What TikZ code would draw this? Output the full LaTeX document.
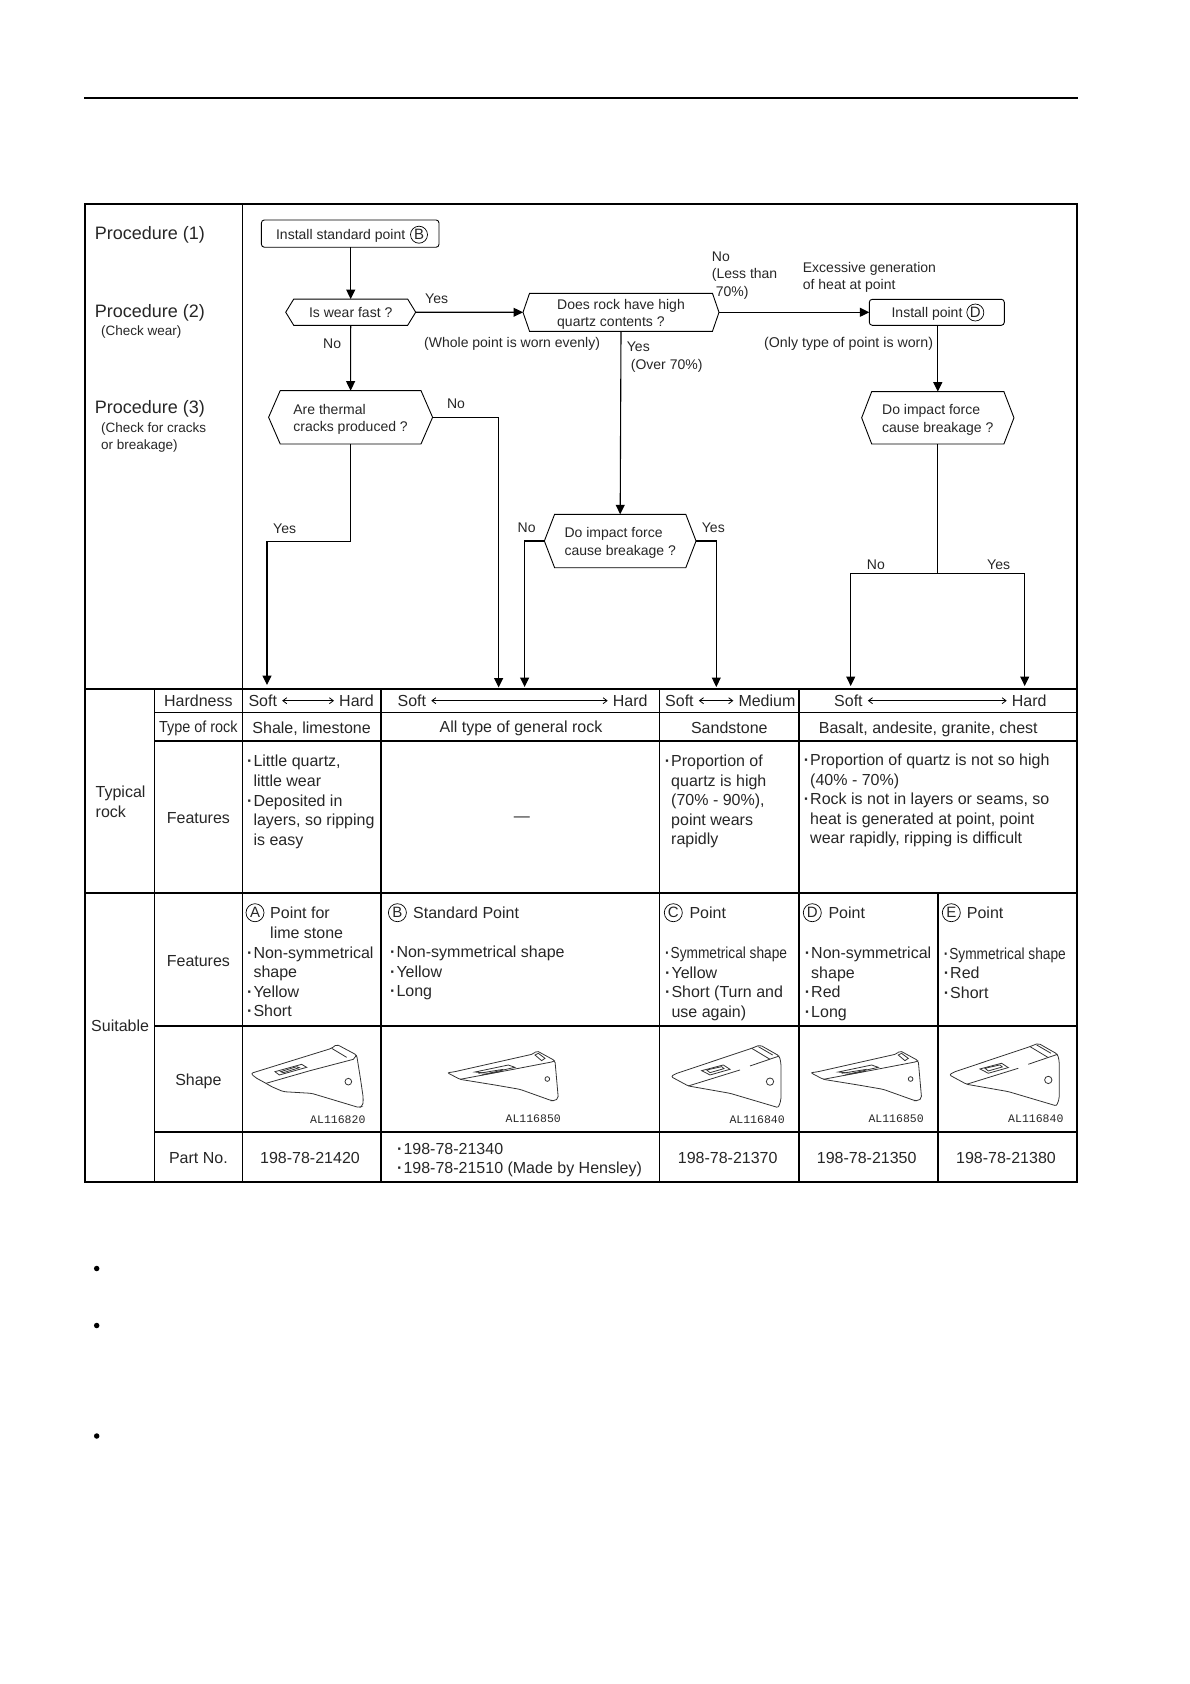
\documentclass[tikz,border=0pt]{standalone}
\usepackage{fontspec}
\setmainfont{Liberation Sans}
\newfontfamily\codefont{Liberation Mono}
\usepackage{tikz}
\usetikzlibrary{arrows.meta,shapes.symbols}
% point drawings, one path set per type, in zoomed pixels
\newcommand{\pointA}[2]{\begin{scope}[shift={(#1,#2)},scale=0.3333,sketch]
  \draw[rounded corners=2pt] (33,130) -- (275,55) -- (290,43) -- (350,75) -- (362,150) -- (370,205) -- (368,228) -- (358,233) -- (215,190) -- (130,185) -- (95,170) -- (78,160) -- (45,142) -- cycle;
  \draw (78,160) -- (210,122) -- (340,88) -- (350,75);
  \draw (105,125) -- (185,103) -- (200,112) -- (118,135) -- cycle;
  \draw (122,125) -- (170,110) -- (178,113) -- (130,128) -- cycle;
  \draw (275,55) -- (320,82);
  \draw (325,155) circle[radius=10];
\end{scope}}
\newcommand{\pointB}[2]{\begin{scope}[shift={(#1,#2)},scale=0.3333,sketch]
  \draw[rounded corners=2pt] (622,128) -- (640,126) -- (880,72) -- (890,62) -- (945,92) -- (955,205) -- (945,212) -- (935,212) -- (840,178) -- (765,165) -- (660,148) -- cycle;
  \draw (660,148) -- (820,118) -- (935,96) -- (945,92);
  \draw (705,126) -- (805,105) -- (825,112) -- (745,130) -- cycle;
  \draw (715,130) -- (790,118);
  \draw (725,135) -- (785,124);
  \draw (885,75) -- (895,70) -- (915,85) -- (905,92) -- cycle;
  \draw (922,147) circle[radius=7];
\end{scope}}
\newcommand{\pointC}[2]{\begin{scope}[shift={(#1,#2)},scale=0.3333,sketch]
  \draw[rounded corners=2pt] (63,1190) -- (75,1182) -- (305,1105) -- (330,1095) -- (388,1128) -- (393,1150) -- (393,1260) -- (385,1283) -- (375,1280) -- (240,1240) -- (115,1218) -- cycle;
  \draw (115,1218) -- (270,1170);
  \draw (300,1158) -- (388,1128);
  \draw (155,1172) -- (220,1155) -- (240,1168) -- (180,1185) -- cycle;
  \draw (170,1170) -- (215,1160) -- (222,1166) -- (180,1178) -- cycle;
  \draw (305,1105) -- (360,1138);
  \draw (325,1100) -- (368,1125);
  \draw (360,1205) circle[radius=11];
\end{scope}}
\newcommand{\bulN}{\textbf{·}\hspace{1pt}}
\newcommand{\hangN}{\phantom{\bulN}}
\newcommand{\downN}{\rule{0pt}{14pt}}
\newcommand{\narrowN}[2]{\scalebox{#1}[1]{#2}}
\begin{document}
\begin{tikzpicture}[x=1pt,y=-1pt,
  every node/.style={text=black!85},
  sketch/.style={line width=0.8pt, black!80},
  rule/.style={line width=1.6pt},
  ruleB/.style={line width=2.2pt},
  flow/.style={line width=1.1pt, -{Triangle[length=9.5pt,width=9pt]}},
  wire/.style={line width=1.1pt},
  scaleline/.style={line width=0.8pt, {Straight Barb[length=4pt,width=6pt]}-{Straight Barb[length=4pt,width=6pt]}, shorten <=5pt, shorten >=5pt},
  pointN/.style={draw, line width=0.9pt, rounded corners=3pt, inner sep=0pt, outer sep=0pt, font=\fontsize{14}{17.5}\selectfont},
  decideN/.style={draw, line width=0.9pt, signal, signal to=east and west, inner sep=0pt, outer sep=0pt, align=left, font=\fontsize{14}{17.5}\selectfont},
  letterN/.style={draw, circle, line width=0.7pt, inner sep=0pt, minimum size=18pt, font=\fontsize{15}{15}\selectfont},
  procN/.style={inner sep=0pt, anchor=west, font=\fontsize{18}{20}\selectfont},
  noteN/.style={inner sep=0pt, anchor=west, align=left, font=\fontsize{13.5}{17}\selectfont},
  flowT/.style={inner sep=0pt, anchor=west, align=left, font=\fontsize{14}{17.5}\selectfont},
  cellC/.style={inner sep=0pt, align=center, font=\fontsize{16}{19.6}\selectfont},
  cellL/.style={inner sep=0pt, anchor=west, align=left, font=\fontsize{16}{19.6}\selectfont},
  partN/.style={inner sep=0pt, font=\fontsize{16}{19.6}\selectfont},
  codeN/.style={inner sep=0pt, anchor=west, font=\fontsize{11.5}{12}\codefont},
  dotN/.style={circle, fill=black, inner sep=0pt, minimum size=5.5pt}
]
\useasboundingbox (0,0) rectangle (1190,1684);
% Page rule and frame
\coordinate (ruleL) at (84,98);
\coordinate (ruleR) at (1078,98);
\draw[line width=2.6pt] (ruleL) -- (ruleR);
\draw[rule] (85,204) rectangle (1077,1182);
% Table rules
\foreach \xv in {154.5,242.5,381,659.3,799} {
  \draw[rule] (\xv,689) -- (\xv,1182);
}
\draw[rule] (242.5,204) -- (242.5,689);
\draw[rule] (938,893) -- (938,1182);
\draw[ruleB] (85,689) -- (1077,689);
\draw[ruleB] (85,893) -- (1077,893);
\draw[rule] (154.5,712.5) -- (1077,712.5);
\draw[rule] (154.5,741) -- (1077,741);
\draw[rule] (154.5,1026) -- (1077,1026);
\draw[ruleB] (154.5,1132) -- (1077,1132);
% Procedures
\node[procN] (proc1) at (94.7,234.7) {Procedure (1)};
\node[procN] (proc2) at (94.7,312.7) {Procedure (2)};
\node[noteN] (check2) at (101,332) {(Check wear)};
\node[procN] (proc3) at (94.7,408.7) {Procedure (3)};
\node[noteN] (check3) at (101,437.8) {(Check for cracks\\or breakage)};
% Flow boxes
\node[pointN, minimum width=177.6pt, minimum height=27.3pt] (install) at (350.2,233.6) {\downN Install standard point\hspace{19pt}\mbox{}};
\node[letterN, minimum size=17pt] (circB) at (419,234.7) {B};
\node[decideN, minimum width=130pt, minimum height=26.3pt, signal pointer angle=117] (wear) at (350.7,312.2) {Is wear fast ?};
\node[decideN, minimum width=196pt, minimum height=38pt, signal pointer angle=142] (rock) at (621,312.3) {\downN Does rock have high\\quartz contents ?};
\node[pointN, minimum width=135pt, minimum height=26pt] (installD) at (936.8,312.3) {\downN Install point\hspace{19.6pt}\mbox{}};
\node[letterN, minimum size=17pt] (circD) at (975.3,312.5) {D};
\node[decideN, minimum width=164pt, minimum height=53.3pt, signal pointer angle=133] (thermal) at (350.6,417.3) {\downN Are thermal\\cracks produced ?};
\node[decideN, minimum width=151.7pt, minimum height=53.4pt, signal pointer angle=138] (impactA) at (620.2,541) {\downN Do impact force\\cause breakage ?};
\node[decideN, minimum width=152.3pt, minimum height=52.3pt, signal pointer angle=138] (impactB) at (937.8,417.8) {\downN Do impact force\\cause breakage ?};
% Free ends on the table
\coordinate (elbowA) at (267,541.7);
\coordinate (tipA) at (267,685);
\coordinate (tipB) at (498.6,687.5);
\coordinate (tipC) at (524.6,687);
\coordinate (tipD) at (716.3,687);
\coordinate (joinE) at (937.8,573.7);
\coordinate (tipE) at (850.7,686);
\coordinate (tipF) at (1024.7,686);
% Flow connectors
\draw[flow] (install.south -| wear.north) -- (wear.north);
\draw[flow] (wear.east) -- (rock.west);
\draw[flow] (wear.south) -- (thermal.north);
\draw[flow] (rock.east) -- (installD.west);
\draw[flow] (rock.south) -- (impactA.north);
\draw[flow] (installD.south -| impactB.north) -- (impactB.north);
\draw[flow] (thermal.south) |- (elbowA) -- (tipA);
\draw[flow] (thermal.east) -| (tipB);
\draw[flow] (impactA.west) -| (tipC);
\draw[flow] (impactA.east) -| (tipD);
\draw[wire] (impactB.south) -- (joinE);
\draw[flow] (joinE) -| (tipE);
\draw[flow] (joinE) -| (tipF);
% Flow labels
\node[flowT] (yes1) at (425,299) {Yes};
\node[flowT] (no1) at (323,344) {No};
\node[flowT] (whole) at (424,344) {(Whole point is worn evenly)};
\node[flowT] (no2) at (446.8,404) {No};
\node[flowT] (yes2) at (273,529) {Yes};
\node[flowT] (yes3) at (626.7,357.3) {Yes\\\hspace*{4pt}(Over 70\%)};
\node[flowT] (no3) at (711.7,275.3) {No\\(Less than\\\hspace*{4pt}70\%)};
\node[flowT] (heat) at (802.7,277.3) {Excessive generation\\of heat at point};
\node[flowT, font=\fontsize{14.2}{17.5}\selectfont] (only) at (764,344) {(Only type of point is worn)};
\node[flowT] (no4) at (517.5,527.3) {No};
\node[flowT] (yes4) at (701.7,527.3) {Yes};
\node[flowT] (no5) at (866.7,564.3) {No};
\node[flowT] (yes5) at (987,564.3) {Yes};
% Typical rock
\node[cellL] (typical) at (95.5,801.5) {Typical\\rock};
\node[cellC] (hardness) at (198.4,701) {Hardness};
\node[cellC] (typeR) at (198.4,728.5) {\narrowN{0.9}{Type of rock}};
\node[cellC] (featR) at (198.4,818) {Features};
\node[cellL] (softA) at (248.3,700.7) {Soft};
\node[cellL] (hardA) at (339,700.7) {Hard};
\node[cellL] (softB) at (397.4,700.7) {Soft};
\node[cellL] (hardB) at (612.7,700.7) {Hard};
\node[cellL] (softC) at (665,700.7) {Soft};
\node[cellL] (medC) at (738.3,700.7) {Medium};
\node[cellL] (softD) at (834,700.7) {Soft};
\node[cellL] (hardD) at (1011.7,700.7) {Hard};
\draw[scaleline] (softA) -- (hardA);
\draw[scaleline] (softB) -- (hardB);
\draw[scaleline] (softC) -- (medC);
\draw[scaleline] (softD) -- (hardD);
\node[cellC] (rockA) at (311.6,728.7) {Shale, limestone};
\node[cellC] (rockB) at (521,728.3) {All type of general rock};
\node[cellC] (rockC) at (729.3,727.7) {Sandstone};
\node[cellC] (rockD) at (928.3,729) {Basalt, andesite, granite, chest};
\node[cellL] (textA) at (247,802) {\bulN Little quartz,\\\hangN little wear\\\bulN Deposited in\\\hangN layers, so ripping\\\hangN is easy};
\node[cellC] (textB) at (521.8,818.7) {—};
\node[cellL] (textC) at (664.7,801.5) {\bulN Proportion of\\\hangN quartz is high\\\hangN (70\% - 90\%),\\\hangN point wears\\\hangN rapidly};
\node[cellL] (textD) at (803.7,800.5) {\bulN Proportion of quartz is not so high\\\hangN (40\% - 70\%)\\\bulN Rock is not in layers or seams, so\\\hangN heat is generated at point, point\\\hangN wear rapidly, ripping is difficult};
% Suitable
\node[cellL] (suitable) at (91,1025.3) {Suitable};
\node[cellC] (featS) at (198.4,960.7) {Features};
\node[cellC] (shapeS) at (198.4,1081) {Shape};
\node[cellC] (partS) at (198.4,1158.3) {Part No.};
\node[letterN] (circA) at (255,912.7) {A};
\node[cellL] (nameA) at (270,922.5) {Point for\\lime stone};
\node[cellL] (listA) at (247,981.7) {\bulN Non-symmetrical\\\hangN shape\\\bulN Yellow\\\bulN Short};
\node[letterN] (circB2) at (397.4,912.7) {B};
\node[cellL] (nameB) at (413,912.7) {Standard Point};
\node[cellL] (listB) at (390,973) {\bulN Non-symmetrical shape\\\bulN Yellow\\\bulN Long};
\node[letterN] (circC) at (673.3,912.7) {C};
\node[cellL] (nameC) at (689.3,912.7) {Point};
\node[cellL] (listC) at (665,983.7) {\narrowN{0.856}{\bulN Symmetrical shape}\\\bulN Yellow\\\bulN Short (Turn and\\\hangN use again)};
\node[letterN] (circD2) at (812.3,912.7) {D};
\node[cellL] (nameD) at (828.3,912.7) {Point};
\node[cellL] (listD) at (804.7,983.7) {\bulN Non-symmetrical\\\hangN shape\\\bulN Red\\\bulN Long};
\node[letterN] (circE) at (951.3,912.7) {E};
\node[cellL] (nameE) at (966.7,912.7) {Point};
\node[cellL] (listE) at (943.7,973) {\narrowN{0.856}{\bulN Symmetrical shape}\\\bulN Red\\\bulN Short};
% Shapes
\pointA{240}{1030}
\pointB{240}{1030}
\pointC{650}{680}
\pointB{603.3}{1030}
\pointC{928.3}{678.3}
\node[codeN] (codeA) at (310,1119.3) {AL116820};
\node[codeN] (codeB) at (505.4,1118.3) {AL116850};
\node[codeN] (codeC) at (729.3,1119.3) {AL116840};
\node[codeN] (codeD) at (868.3,1118.3) {AL116850};
\node[codeN] (codeE) at (1008,1118.3) {AL116840};
% Part numbers
\node[partN] (noA) at (310,1158.3) {198-78-21420};
\node[cellL] (noB) at (397,1160) {\bulN 198-78-21340\\\bulN 198-78-21510 (Made by Hensley)};
\node[partN] (noC) at (727.7,1158.3) {198-78-21370};
\node[partN] (noD) at (866.7,1158.3) {198-78-21350};
\node[partN] (noE) at (1006,1158.3) {198-78-21380};
% Notes below the table
\node[dotN] (dot1) at (96.7,1268.5) {};
\node[dotN] (dot2) at (96.7,1325.5) {};
\node[dotN] (dot3) at (96.7,1436) {};
\end{tikzpicture}
\end{document}
